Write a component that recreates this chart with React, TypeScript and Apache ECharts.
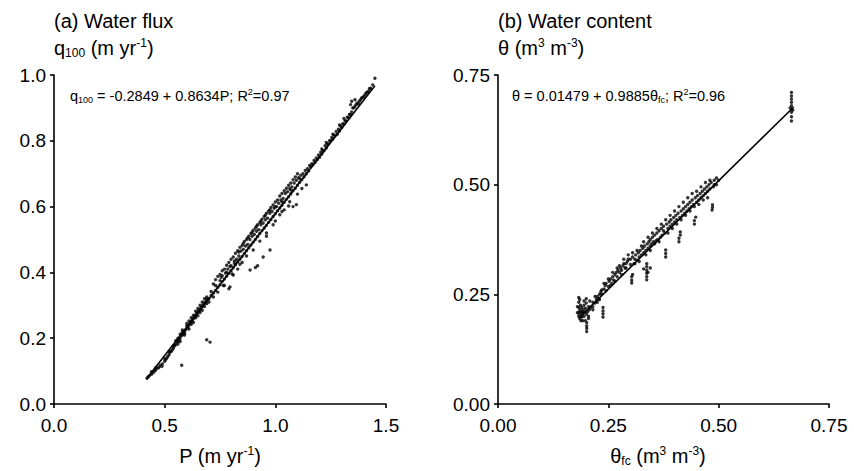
import React, { useEffect, useRef } from "react";
import * as echarts from "echarts";

// ---- Panel (a): water flux, P (m/yr) vs q100 (m/yr)
const fluxPoints: number[][] = [
  [0.42, 0.078], [0.425, 0.082], [0.43, 0.085], [0.44, 0.09], [0.448, 0.095], [0.455, 0.1],
  [0.46, 0.104], [0.47, 0.109], [0.475, 0.112], [0.488, 0.115], [0.49, 0.122], [0.5, 0.13],
  [0.505, 0.135], [0.51, 0.14], [0.515, 0.145], [0.52, 0.15], [0.525, 0.158], [0.53, 0.16],
  [0.535, 0.165], [0.54, 0.17], [0.545, 0.178], [0.55, 0.18], [0.555, 0.188], [0.56, 0.19],
  [0.565, 0.195], [0.57, 0.2], [0.575, 0.208], [0.58, 0.21], [0.585, 0.215], [0.59, 0.222],
  [0.595, 0.226], [0.6, 0.23], [0.605, 0.235], [0.61, 0.24], [0.615, 0.246], [0.62, 0.25],
  [0.625, 0.255], [0.63, 0.26], [0.635, 0.266], [0.64, 0.27], [0.645, 0.275], [0.65, 0.28],
  [0.655, 0.284], [0.66, 0.288], [0.665, 0.294], [0.67, 0.298], [0.675, 0.302], [0.68, 0.306],
  [0.685, 0.31], [0.69, 0.316], [0.695, 0.32], [0.56, 0.2], [0.58, 0.225], [0.6, 0.245],
  [0.62, 0.262], [0.64, 0.282], [0.66, 0.3], [0.68, 0.32], [0.57, 0.19], [0.59, 0.21],
  [0.61, 0.228], [0.63, 0.248], [0.65, 0.268], [0.67, 0.285], [0.69, 0.305],
  [0.577, 0.118], [0.69, 0.195], [0.705, 0.188],
  [0.7, 0.32], [0.71, 0.33], [0.72, 0.337], [0.73, 0.345], [0.74, 0.355], [0.75, 0.362],
  [0.76, 0.372], [0.77, 0.38], [0.78, 0.388], [0.79, 0.397], [0.8, 0.405], [0.81, 0.414],
  [0.82, 0.423], [0.83, 0.432], [0.84, 0.44], [0.85, 0.448], [0.86, 0.457], [0.87, 0.466],
  [0.88, 0.475], [0.89, 0.483], [0.9, 0.492], [0.91, 0.5], [0.92, 0.509], [0.93, 0.518],
  [0.94, 0.527], [0.95, 0.535], [0.96, 0.543], [0.97, 0.552], [0.98, 0.561], [0.99, 0.57],
  [1.0, 0.578], [1.01, 0.587], [1.02, 0.596], [1.03, 0.604], [1.04, 0.613], [1.05, 0.622],
  [1.06, 0.63], [1.07, 0.639], [1.08, 0.648], [1.09, 0.656], [1.1, 0.665], [1.11, 0.674],
  [1.12, 0.682], [1.13, 0.691], [1.14, 0.7], [1.15, 0.708],
  [0.72, 0.365], [0.73, 0.378], [0.74, 0.388], [0.75, 0.394], [0.76, 0.405], [0.77, 0.41],
  [0.78, 0.422], [0.79, 0.43], [0.8, 0.44], [0.81, 0.447], [0.82, 0.458], [0.83, 0.466],
  [0.84, 0.476], [0.85, 0.482], [0.86, 0.494], [0.87, 0.5], [0.88, 0.51], [0.89, 0.518],
  [0.9, 0.528], [0.91, 0.535], [0.92, 0.545], [0.93, 0.552], [0.94, 0.562], [0.95, 0.57],
  [0.96, 0.58], [0.97, 0.587], [0.98, 0.597], [0.99, 0.605], [1.0, 0.614], [1.01, 0.62],
  [1.02, 0.632], [1.03, 0.64], [1.04, 0.648], [1.05, 0.656], [1.06, 0.665], [1.07, 0.672],
  [1.08, 0.682], [1.09, 0.69], [1.1, 0.7],
  [0.77, 0.36], [0.79, 0.35], [0.795, 0.356], [0.81, 0.392], [0.83, 0.41], [0.85, 0.43],
  [0.87, 0.45], [0.886, 0.407], [0.9, 0.468], [0.91, 0.415], [0.92, 0.42], [0.93, 0.495],
  [0.945, 0.447], [0.96, 0.52], [0.976, 0.468], [0.99, 0.545], [1.0, 0.556], [1.02, 0.575],
  [1.03, 0.585], [1.06, 0.602], [1.08, 0.6], [1.095, 0.606], [1.1, 0.638], [1.12, 0.655],
  [1.14, 0.666], [1.065, 0.615], [1.04, 0.59],
  [1.16, 0.72], [1.17, 0.727], [1.18, 0.735], [1.19, 0.743], [1.2, 0.75], [1.21, 0.76],
  [1.22, 0.77], [1.23, 0.778], [1.24, 0.79], [1.25, 0.8], [1.26, 0.806], [1.27, 0.815],
  [1.28, 0.82], [1.29, 0.83], [1.3, 0.84], [1.31, 0.85], [1.32, 0.86], [1.33, 0.87],
  [1.34, 0.88], [1.35, 0.9], [1.36, 0.905], [1.37, 0.915], [1.38, 0.92], [1.39, 0.93],
  [1.4, 0.935], [1.41, 0.945], [1.42, 0.95], [1.43, 0.96], [1.44, 0.97], [1.45, 0.99],
  [1.34, 0.91], [1.345, 0.92], [1.36, 0.925], [1.21, 0.775], [1.23, 0.795], [1.26, 0.82],
  [1.29, 0.848], [1.31, 0.868],
  [0.44, 0.098], [0.46, 0.11], [0.48, 0.118], [0.5, 0.138], [0.52, 0.158], [0.54, 0.176],
  [0.55, 0.192], [0.56, 0.182], [0.57, 0.212], [0.58, 0.218], [0.59, 0.215], [0.6, 0.238],
  [0.61, 0.252], [0.62, 0.242], [0.63, 0.27], [0.64, 0.262], [0.65, 0.29], [0.66, 0.278],
  [0.67, 0.31], [0.68, 0.296], [0.69, 0.325], [0.7, 0.31], [0.71, 0.342], [0.72, 0.325],
  [0.73, 0.36], [0.74, 0.34], [0.75, 0.375], [0.76, 0.39], [0.765, 0.36], [0.78, 0.4],
  [0.785, 0.41], [0.8, 0.42], [0.805, 0.395], [0.815, 0.435], [0.825, 0.44], [0.835, 0.45],
  [0.845, 0.465], [0.855, 0.47], [0.865, 0.48], [0.875, 0.485], [0.885, 0.5], [0.895, 0.51],
  [0.905, 0.515], [0.915, 0.525], [0.925, 0.53], [0.935, 0.545], [0.945, 0.55], [0.955, 0.56],
  [0.965, 0.565], [0.975, 0.58], [0.985, 0.585], [0.995, 0.595], [1.005, 0.6], [1.015, 0.61],
  [1.025, 0.62], [1.035, 0.625], [1.045, 0.64], [1.055, 0.645], [1.065, 0.655], [1.075, 0.66],
  [1.085, 0.672], [1.095, 0.68], [1.105, 0.688], [1.115, 0.695], [1.125, 0.7], [1.135, 0.71],
  [1.145, 0.715], [1.155, 0.725], [1.165, 0.73], [1.175, 0.74], [1.185, 0.748], [1.195, 0.757],
  [1.205, 0.765], [1.215, 0.77], [1.225, 0.785], [1.235, 0.79], [1.245, 0.8], [1.255, 0.81],
  [1.265, 0.818], [1.275, 0.828], [1.285, 0.835], [1.295, 0.845], [1.305, 0.852], [1.315, 0.86],
  [1.325, 0.872], [1.335, 0.88], [1.345, 0.888], [1.355, 0.9], [1.365, 0.91], [1.375, 0.912],
  [1.385, 0.925], [1.395, 0.932], [1.405, 0.94], [1.415, 0.948], [1.425, 0.958],
  [0.755, 0.385], [0.775, 0.398], [0.795, 0.418], [0.815, 0.428], [0.835, 0.462], [0.855, 0.488],
  [0.875, 0.505], [0.895, 0.522], [0.915, 0.54], [0.935, 0.556], [0.955, 0.574], [0.975, 0.59],
  [1.0, 0.6], [1.03, 0.615], [1.07, 0.65], [1.11, 0.685], [0.84, 0.425], [0.96, 0.51],
];
const fluxFit: number[][] = [[0.42, 0.078], [1.45, 0.967]];

// ---- Panel (b): water content, theta_fc vs theta (m3/m3)
const contentPoints: number[][] = [
  [0.183, 0.2], [0.183, 0.21], [0.183, 0.22], [0.183, 0.232], [0.185, 0.195], [0.185, 0.205],
  [0.186, 0.215], [0.187, 0.225], [0.188, 0.19], [0.188, 0.2], [0.19, 0.21], [0.19, 0.22],
  [0.19, 0.198], [0.192, 0.205], [0.193, 0.215], [0.195, 0.2], [0.195, 0.225], [0.196, 0.21],
  [0.198, 0.19], [0.198, 0.218], [0.2, 0.205], [0.2, 0.23], [0.201, 0.165], [0.201, 0.172],
  [0.201, 0.178], [0.201, 0.185], [0.203, 0.21], [0.205, 0.2], [0.205, 0.222], [0.207, 0.215],
  [0.208, 0.235], [0.21, 0.22], [0.185, 0.238], [0.183, 0.243],
  [0.215, 0.222], [0.215, 0.232], [0.22, 0.23], [0.223, 0.238], [0.225, 0.245], [0.228, 0.24],
  [0.23, 0.25], [0.233, 0.256], [0.235, 0.26], [0.24, 0.262], [0.238, 0.198], [0.238, 0.205],
  [0.238, 0.212], [0.238, 0.22], [0.243, 0.27], [0.245, 0.275], [0.25, 0.268], [0.252, 0.28],
  [0.255, 0.285], [0.258, 0.275], [0.26, 0.29], [0.262, 0.282], [0.265, 0.295], [0.268, 0.3],
  [0.27, 0.29], [0.272, 0.305], [0.275, 0.3], [0.278, 0.31], [0.28, 0.305], [0.283, 0.315],
  [0.285, 0.32], [0.288, 0.31], [0.29, 0.32], [0.293, 0.325], [0.295, 0.33], [0.3, 0.318],
  [0.303, 0.276], [0.303, 0.282], [0.303, 0.29], [0.305, 0.335], [0.308, 0.32], [0.31, 0.33],
  [0.312, 0.34], [0.315, 0.328], [0.318, 0.345], [0.32, 0.335], [0.322, 0.35], [0.325, 0.34],
  [0.328, 0.355], [0.33, 0.345], [0.332, 0.36], [0.335, 0.35], [0.337, 0.283], [0.337, 0.29],
  [0.337, 0.298], [0.337, 0.305], [0.337, 0.313], [0.337, 0.32], [0.338, 0.365], [0.34, 0.355],
  [0.342, 0.37], [0.345, 0.36], [0.345, 0.375], [0.348, 0.365], [0.35, 0.38], [0.352, 0.37],
  [0.355, 0.385], [0.358, 0.372], [0.36, 0.39], [0.362, 0.375], [0.365, 0.395], [0.368, 0.38],
  [0.37, 0.4], [0.372, 0.385], [0.375, 0.405], [0.378, 0.39], [0.38, 0.335], [0.38, 0.343],
  [0.38, 0.351], [0.382, 0.41], [0.385, 0.4], [0.388, 0.415], [0.39, 0.405], [0.392, 0.42],
  [0.395, 0.41], [0.398, 0.425], [0.4, 0.415], [0.403, 0.43], [0.405, 0.42], [0.408, 0.435],
  [0.41, 0.37], [0.41, 0.378], [0.413, 0.385], [0.413, 0.392], [0.412, 0.425], [0.415, 0.44],
  [0.418, 0.43], [0.42, 0.445], [0.423, 0.435], [0.425, 0.45], [0.428, 0.44], [0.43, 0.455],
  [0.433, 0.445], [0.435, 0.46], [0.438, 0.45], [0.44, 0.465], [0.443, 0.455], [0.445, 0.41],
  [0.445, 0.418], [0.448, 0.426], [0.447, 0.47], [0.45, 0.46], [0.452, 0.475], [0.455, 0.465],
  [0.458, 0.48], [0.46, 0.47], [0.463, 0.485], [0.465, 0.475], [0.468, 0.49], [0.47, 0.48],
  [0.473, 0.495], [0.475, 0.485], [0.478, 0.5], [0.48, 0.49], [0.485, 0.442], [0.486, 0.448],
  [0.486, 0.454], [0.483, 0.505], [0.488, 0.495], [0.49, 0.51], [0.495, 0.5], [0.5, 0.51],
  [0.665, 0.645], [0.665, 0.655], [0.665, 0.665], [0.665, 0.672], [0.665, 0.68], [0.665, 0.688],
  [0.665, 0.695], [0.665, 0.702], [0.665, 0.71], [0.668, 0.67], [0.662, 0.675],
  [0.215, 0.215], [0.22, 0.245], [0.225, 0.232], [0.23, 0.238], [0.235, 0.25], [0.24, 0.275],
  [0.245, 0.258], [0.25, 0.285], [0.255, 0.27], [0.26, 0.3], [0.265, 0.28], [0.27, 0.31],
  [0.275, 0.315], [0.28, 0.295], [0.285, 0.33], [0.29, 0.31], [0.295, 0.34], [0.3, 0.33],
  [0.305, 0.345], [0.31, 0.32], [0.315, 0.35], [0.32, 0.325], [0.325, 0.36], [0.33, 0.37],
  [0.335, 0.34], [0.34, 0.38], [0.345, 0.35], [0.35, 0.39], [0.355, 0.365], [0.36, 0.4],
  [0.365, 0.37], [0.37, 0.41], [0.375, 0.395], [0.38, 0.42], [0.385, 0.39], [0.39, 0.43],
  [0.395, 0.4], [0.4, 0.44], [0.405, 0.41], [0.41, 0.45], [0.415, 0.42], [0.42, 0.46],
  [0.425, 0.43], [0.43, 0.47], [0.435, 0.44], [0.44, 0.48], [0.445, 0.45], [0.45, 0.485],
  [0.455, 0.455], [0.46, 0.495], [0.465, 0.465], [0.47, 0.505], [0.475, 0.47], [0.48, 0.51],
  [0.49, 0.5], [0.495, 0.515], [0.34, 0.3], [0.345, 0.31], [0.33, 0.308], [0.305, 0.295],
  [0.2, 0.24], [0.195, 0.235], [0.188, 0.21], [0.192, 0.19], [0.205, 0.195], [0.18, 0.208],
  [0.18, 0.222],
];
const contentFit: number[][] = [[0.19, 0.2026], [0.67, 0.6771]];

const xTicksA = [0, 0.5, 1.0, 1.5];
const yTicksA = [0, 0.2, 0.4, 0.6, 0.8, 1.0];
const xTicksB = [0, 0.25, 0.5, 0.75];
const yTicksB = [0, 0.25, 0.5, 0.75];

const FONT = 'Arial, "Liberation Sans", Helvetica, sans-serif';
const TICK_FS = 19;
const TITLE_FS = 20;
const EQ_FS = 14.5;

function richStyles(fs: number) {
  const small = Math.round(fs * 0.62);
  return {
    n: { fontSize: fs, fontFamily: FONT, color: "#000", lineHeight: fs + 2 },
    sub: { fontSize: small, fontFamily: FONT, color: "#000", lineHeight: small, verticalAlign: "bottom" as const },
    sup: { fontSize: small, fontFamily: FONT, color: "#000", lineHeight: small, verticalAlign: "top" as const },
  };
}

function txt(x: number, y: number, text: string, fs: number, align: "left" | "center" = "left") {
  return {
    type: "text",
    x,
    y,
    silent: true,
    style: {
      text,
      rich: richStyles(fs),
      fontSize: fs,
      fontFamily: FONT,
      fill: "#000",
      align,
      verticalAlign: "middle",
    },
  };
}

function axisCommon(min: number, max: number, interval: number, digits: number, isX: boolean) {
  return {
    type: "value",
    min,
    max,
    interval,
    axisLine: { show: true, onZero: false, lineStyle: { color: "#000", width: 1.6 } },
    axisTick: { show: true, inside: false, length: 4, lineStyle: { color: "#000", width: 1.6 } },
    splitLine: { show: false },
    axisLabel: {
      color: "#000",
      fontSize: TICK_FS,
      fontFamily: FONT,
      margin: isX ? 12 : 8,
      formatter: (v: number) => v.toFixed(digits),
    },
  };
}

export default function App() {
  const ref = useRef<HTMLDivElement>(null);
  useEffect(() => {
    if (!ref.current) return;
    const chart = echarts.init(ref.current, undefined, { renderer: "svg" });
    const option = {
      animation: false,
      backgroundColor: "#fff",
      grid: [
        { left: 54, top: 75, width: 332, height: 329 },
        { left: 498, top: 75, width: 331, height: 329 },
      ],
      xAxis: [
        { ...axisCommon(xTicksA[0], xTicksA[xTicksA.length - 1], 0.5, 1, true), gridIndex: 0 },
        { ...axisCommon(xTicksB[0], xTicksB[xTicksB.length - 1], 0.25, 2, true), gridIndex: 1 },
      ],
      yAxis: [
        { ...axisCommon(yTicksA[0], yTicksA[yTicksA.length - 1], 0.2, 1, false), gridIndex: 0 },
        { ...axisCommon(yTicksB[0], yTicksB[yTicksB.length - 1], 0.25, 2, false), gridIndex: 1 },
      ],
      series: [
        {
          type: "scatter",
          xAxisIndex: 0,
          yAxisIndex: 0,
          data: fluxPoints,
          symbol: "circle",
          symbolSize: 3.4,
          itemStyle: { color: "#000" },
          silent: true,
        },
        {
          type: "line",
          xAxisIndex: 0,
          yAxisIndex: 0,
          data: fluxFit,
          symbol: "none",
          lineStyle: { color: "#000", width: 1.6 },
          silent: true,
        },
        {
          type: "scatter",
          xAxisIndex: 1,
          yAxisIndex: 1,
          data: contentPoints,
          symbol: "circle",
          symbolSize: 3.4,
          itemStyle: { color: "#000" },
          silent: true,
        },
        {
          type: "line",
          xAxisIndex: 1,
          yAxisIndex: 1,
          data: contentFit,
          symbol: "none",
          lineStyle: { color: "#000", width: 1.6 },
          silent: true,
        },
      ],
      graphic: [
        txt(54, 21, "{n|(a) Water flux}", TITLE_FS),
        txt(54, 48, "{n|q}{sub|100}{n| (m yr}{sup|-1}{n|)}", TITLE_FS),
        txt(498, 21, "{n|(b) Water content}", TITLE_FS),
        txt(498, 48, "{n|θ (m}{sup|3}{n| m}{sup|-3}{n|)}", TITLE_FS),
        txt(70, 96, "{n|q}{sub|100}{n| = -0.2849 + 0.8634P; R}{sup|2}{n|=0.97}", EQ_FS),
        txt(512, 96, "{n|θ = 0.01479 + 0.9885θ}{sub|fc}{n|; R}{sup|2}{n|=0.96}", EQ_FS),
        txt(220, 456, "{n|P (m yr}{sup|-1}{n|)}", TITLE_FS, "center"),
        txt(658, 456, "{n|θ}{sub|fc}{n| (m}{sup|3}{n| m}{sup|-3}{n|)}", TITLE_FS, "center"),
      ],
    };
    chart.setOption(option as any);
    return () => chart.dispose();
  }, []);
  return (
    <div
      ref={ref}
      style={{ position: "fixed", left: 0, top: 0, width: 854, height: 471, background: "#fff" }}
    />
  );
}
